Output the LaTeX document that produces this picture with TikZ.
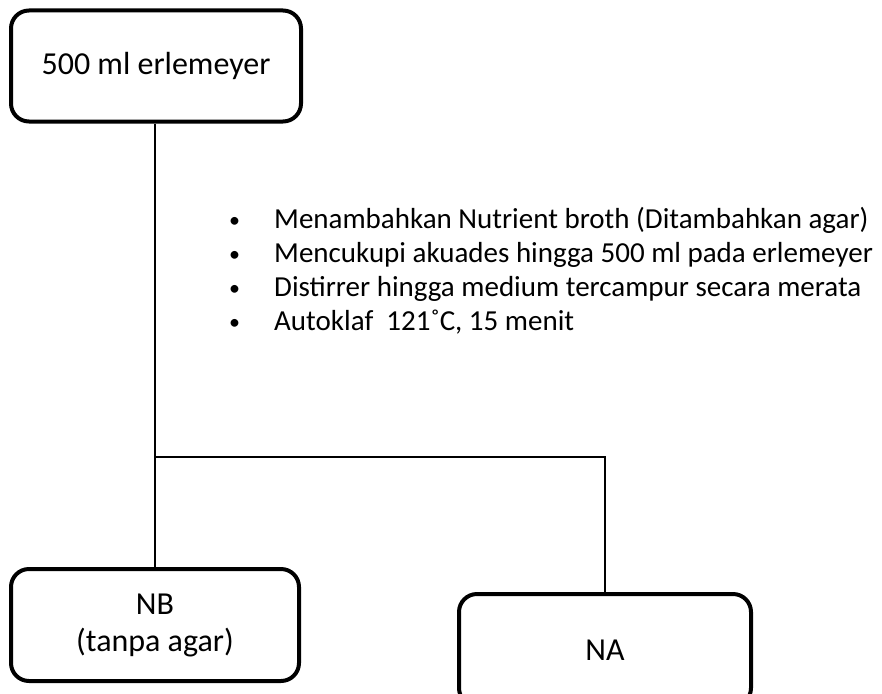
\documentclass[tikz,border=0pt]{standalone}
\usepackage{fontspec}
\setmainfont{Carlito}
\newcommand{\dotmark}{\makebox[45pt][l]{\raisebox{1pt}{\fontsize{22}{22}\selectfont\textbullet}}}
\begin{document}
\begin{tikzpicture}[x=1pt,y=-1pt,
    box/.style={draw,line width=4pt,rounded corners=18pt,align=center,
      font=\fontsize{32}{37}\selectfont},
    link/.style={line width=1.5pt}]
    \useasboundingbox (0,0) rectangle (882,693);
    \clip (0,0) rectangle (882,693);
    \node[box,minimum width=290pt,minimum height=111pt] (flask) at (156,66) {500 ml erlemeyer};
    \node[box,minimum width=288pt,minimum height=112pt] (nb) at (155,625) {NB\\(tanpa agar)};
    \node[box,minimum width=292pt,minimum height=112pt] (na) at (605,650) {NA};
    \node[anchor=base west,align=left,inner sep=0pt,
      font=\fontsize{29}{34}\selectfont] (steps) at (229,330)
      {\dotmark Menambahkan Nutrient broth (Ditambahkan agar)\\
       \dotmark Mencukupi akuades hingga 500 ml pada erlemeyer\\
       \dotmark Distirrer hingga medium tercampur secara merata\\
       \dotmark Autoklaf\ \ 121˚C, 15 menit};
    \coordinate (split) at (155,457);
    \draw[link] (flask.south -| nb.north) -- (nb.north);
    \draw[link] (split) -| (na.north);
  \end{tikzpicture}
\end{document}
